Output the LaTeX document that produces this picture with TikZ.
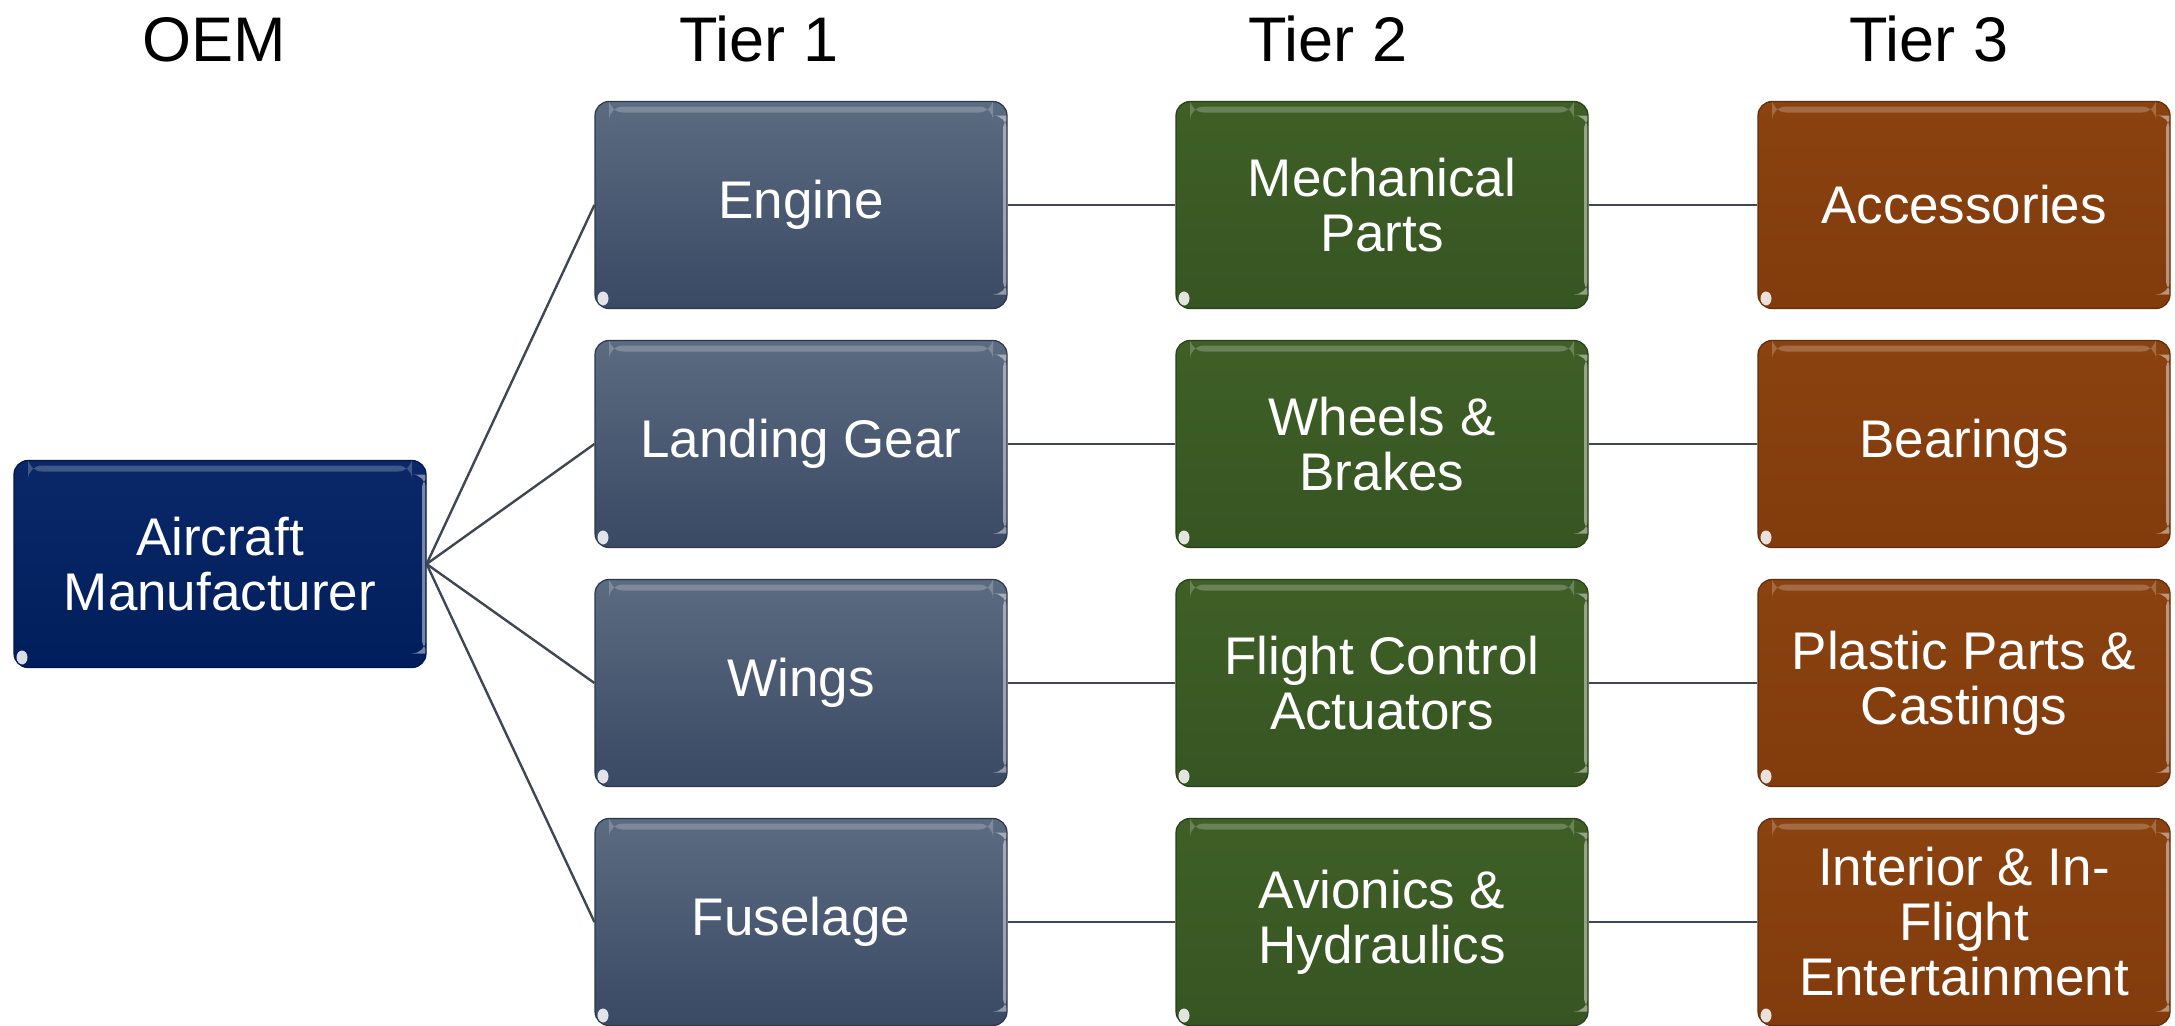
\documentclass[tikz,border=0pt]{standalone}
\usepackage{fontspec}
\setmainfont{Liberation Sans}
\definecolor{oemT}{HTML}{0A2868}
\definecolor{oemB}{HTML}{011E5C}
\definecolor{tAT}{HTML}{5B6B80}
\definecolor{tAB}{HTML}{3A4964}
\definecolor{tBT}{HTML}{3F5F27}
\definecolor{tBB}{HTML}{365522}
\definecolor{tCT}{HTML}{8A4210}
\definecolor{tCB}{HTML}{823B0C}
\definecolor{linkc}{HTML}{3E4756}
\newcommand{\boxfont}{\fontsize{53}{55}\selectfont}
\newcommand{\headfont}{\fontsize{63}{70}\selectfont}
\tikzset{
  gloss/.style={path picture={
    \fill[white,opacity=0.22] ([xshift=14pt,yshift=-5pt]path picture bounding box.north west) rectangle ([xshift=-14pt,yshift=-11pt]path picture bounding box.north east);
    \fill[white,opacity=0.45] ([xshift=-4pt,yshift=-14pt]path picture bounding box.north east) rectangle ([yshift=14pt]path picture bounding box.south east);
    \fill[white,opacity=0.85] ([xshift=8pt,yshift=10pt]path picture bounding box.south west) ellipse[x radius=5.5pt,y radius=7pt];
  }},
  tbox/.style={rounded corners=14pt, minimum width=412pt, minimum height=207pt,
    inner sep=0pt, align=center, text=white, font=\boxfont, line width=1.2pt, gloss},
  oembox/.style={tbox, top color=oemT, bottom color=oemB, draw=oemB!75!black},
  tonebox/.style={tbox, top color=tAT, bottom color=tAB, draw=tAB!75!black},
  ttwobox/.style={tbox, top color=tBT, bottom color=tBB, draw=tBB!75!black},
  tthreebox/.style={tbox, top color=tCT, bottom color=tCB, draw=tCB!75!black},
  head/.style={anchor=base, font=\headfont, text=black, inner sep=0pt},
  link/.style={draw=linkc, line width=2.4pt}
}
\begin{document}
\begin{tikzpicture}[x=1pt,y=-1pt]
\useasboundingbox (0,0) rectangle (2175,1025);

\node[head] (hOEM) at (214,62) {OEM};
\node[head] (hT1) at (759,62) {Tier 1};
\node[head] (hT2) at (1328,62) {Tier 2};
\node[head] (hT3) at (1929,62) {Tier 3};

\node[oembox] (oem) at (220,564) {Aircraft\\Manufacturer};

\node[tonebox] (a1) at (801,205) {Engine};
\node[tonebox] (a2) at (801,444) {Landing Gear};
\node[tonebox] (a3) at (801,683) {Wings};
\node[tonebox] (a4) at (801,922) {Fuselage};

\node[ttwobox] (b1) at (1382,205) {Mechanical\\Parts};
\node[ttwobox] (b2) at (1382,444) {Wheels \&\\Brakes};
\node[ttwobox] (b3) at (1382,683) {Flight Control\\Actuators};
\node[ttwobox] (b4) at (1382,922) {Avionics \&\\Hydraulics};

\node[tthreebox] (c1) at (1964,205) {Accessories};
\node[tthreebox] (c2) at (1964,444) {Bearings};
\node[tthreebox] (c3) at (1964,683) {Plastic Parts \&\\Castings};
\node[tthreebox] (c4) at (1964,922) {Interior \& In-\\Flight\\Entertainment};

\foreach \i in {1,2,3,4}{
  \draw[link] (oem.east) -- (a\i.west);
  \draw[link] (a\i.east) -- (b\i.west);
  \draw[link] (b\i.east) -- (c\i.west);
}
\end{tikzpicture}
\end{document}
